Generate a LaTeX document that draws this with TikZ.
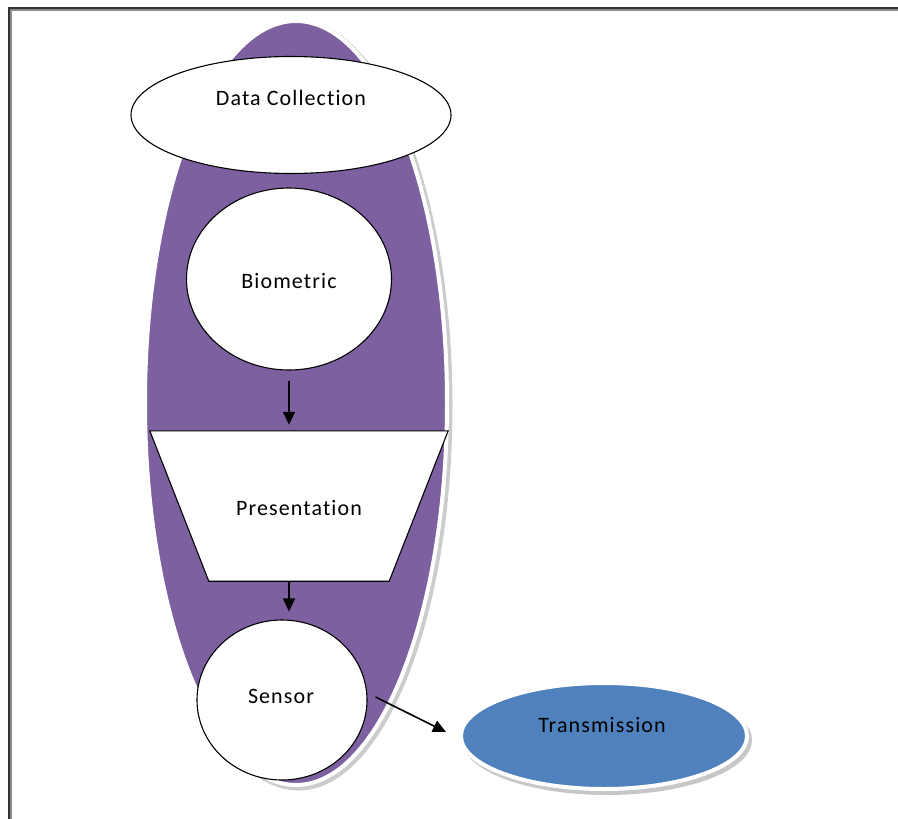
\documentclass[tikz,border=0pt]{standalone}
\usepackage{fontspec}
\setmainfont{Carlito}[LetterSpace=5, Ligatures=NoCommon]
\usetikzlibrary{shapes.geometric,arrows.meta}
\definecolor{purp}{HTML}{7D60A0}
\definecolor{blu}{HTML}{4F81BD}
\begin{document}
\begin{tikzpicture}[x=1pt,y=-1pt,
  lbl/.style={font=\fontsize{22}{26}\selectfont, inner sep=0pt, text=black},
  whiteshape/.style={draw=black, line width=1.1pt, fill=white, inner sep=0pt},
  arr/.style={line width=1.6pt, -{Triangle[length=13pt,width=12pt]}},
]
\useasboundingbox (0,0) rectangle (898,819);
\fill[white] (0,0) rectangle (898,819);
% frame
\draw[black!45, line width=2pt] (11,900) -- (11,10) -- (900,10);
\draw[black!80, line width=2pt] (9,900) -- (9,8) -- (900,8);

% big purple ellipse
\node[ellipse, fill=black!20, minimum width=308pt, minimum height=770pt, inner sep=0] (shad) at (298.5,405.5) {};
\node[ellipse, fill=purp, draw=white, line width=4pt, minimum width=302pt, minimum height=764pt, inner sep=0] (big) at (296,403) {};

% data collection
\node[ellipse, whiteshape, minimum width=320pt, minimum height=117pt] (dc) at (291,115) {};
\node[lbl] (dct) at (291,98) {Data Collection};

% biometric
\node[ellipse, whiteshape, minimum width=205pt, minimum height=182pt] (bio) at (289,279) {};
\node[lbl] (biot) at (289,281) {Biometric};

% presentation (trapezoid drawn on an invisible frame node)
\node[minimum width=298pt, minimum height=150pt, inner sep=0] (pres) at (299,506) {};
\draw[whiteshape] (pres.north west) -- (pres.north east) -- ([xshift=-59pt]pres.south east) -- ([xshift=59pt]pres.south west) -- cycle;
\node[lbl] (prest) at (299,508) {Presentation};

% sensor
\node[ellipse, whiteshape, minimum width=170pt, minimum height=160pt] (sens) at (282,700) {};
\node[lbl] (senst) at (281,696) {Sensor};

% transmission
\node[ellipse, fill=black!22, minimum width=290pt, minimum height=110pt, inner sep=0] (trshad) at (607,740) {};
\node[ellipse, fill=blu, draw=white, line width=4pt, minimum width=286pt, minimum height=106pt, inner sep=0] (trans) at (604,736) {};
\node[lbl] (transt) at (602,725) {Transmission};

% arrows
\draw[arr, shorten <=10pt, shorten >=6pt] (bio.south) -- (bio.south |- pres.north);
\draw[arr, shorten <=1pt, shorten >=8pt] (pres.south -| bio.south) -- (bio.south |- sens.north);
\draw[arr] ([xshift=8pt,yshift=3pt]sens.east) -- ([xshift=-13pt,yshift=4pt]trans.west);
\end{tikzpicture}
\end{document}
